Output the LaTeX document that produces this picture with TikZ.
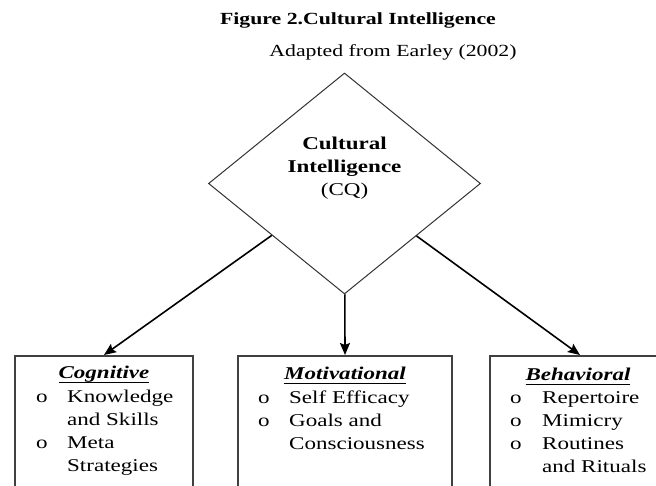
\documentclass[tikz,border=0pt]{standalone}
\usepackage{fontspec}
\usepackage{graphicx}
\setmainfont{Liberation Serif}
\usetikzlibrary{shapes.geometric,arrows.meta}

\tikzset{
  catbox/.style={draw=black!75, line width=1.6pt, anchor=north, minimum height=200pt, inner sep=0pt},
  cattitle/.style={anchor=base, inner sep=0pt, font=\fontsize{18}{23}\selectfont\bfseries\itshape},
  catlist/.style={anchor=base west, inner sep=0pt, font=\fontsize{18}{23}\selectfont},
  link/.style={line width=1.6pt, -{Stealth[length=12pt,width=10pt,inset=2pt]}},
}
% the print is wider than it is tall
\newcommand{\wide}[1]{\scalebox{1.28}[1]{#1}}
% heavy underline for the three part names
\newcommand{\catname}[1]{\wide{\setbox0\hbox{#1}\rlap{\rule[-5pt]{\wd0}{1.5pt}}\box0}}

\begin{document}
\begin{tikzpicture}[x=1pt,y=-1pt]
  \useasboundingbox (0,0) rectangle (656,486);
  \clip (0,0) rectangle (656,486);
  % heading
  \node[anchor=base, font=\fontsize{17}{20}\selectfont\bfseries] (fig) at (358,25) {\wide{Figure 2.Cultural Intelligence}};
  \node[anchor=base, font=\fontsize{17}{20}\selectfont] (src) at (393,57) {\wide{Adapted from Earley (2002)}};
  % centre diamond
  \node[diamond, draw=black!80, line width=1pt, minimum width=272pt, minimum height=221pt, inner sep=0pt] (cq) at (344.5,183.5) {};
  \node[font=\fontsize{18}{23}\selectfont] (cqt) at (344.5,168) {\wide{\begin{tabular}{@{}c@{}}
    \textbf{Cultural}\\ \textbf{Intelligence}\\ (CQ)\end{tabular}}};
  % the three parts
  \node[catbox, minimum width=178pt] (cog) at (104,355) {};
  \node[catbox, minimum width=214pt] (mot) at (345,355) {};
  \node[catbox, minimum width=180pt] (beh) at (580,355) {};
  \node[cattitle] (cogt) at (104,378) {\catname{Cognitive}};
  \node[cattitle] (mott) at (345,379) {\catname{Motivational}};
  \node[cattitle] (beht) at (578,380) {\catname{Behavioral}};
  \node[catlist] (cogl) at (36,402) {\wide{\begin{tabular}[t]{@{}p{24.2pt}@{}l@{}}
    o & Knowledge\\ & and Skills\\ o & Meta\\ & Strategies\end{tabular}}};
  \node[catlist] (motl) at (258,403) {\wide{\begin{tabular}[t]{@{}p{24.2pt}@{}l@{}}
    o & Self Efficacy\\ o & Goals and\\ & Consciousness\end{tabular}}};
  \node[catlist] (behl) at (510,403) {\wide{\begin{tabular}[t]{@{}p{25pt}@{}l@{}}
    o & Repertoire\\ o & Mimicry\\ o & Routines\\ & and Rituals\end{tabular}}};
  % arrows
  \draw[link] (cq) -- (cog.north);
  \draw[link] (cq) -- (mot.north);
  \draw[link] (cq) -- (beh.north);
\end{tikzpicture}
\end{document}
